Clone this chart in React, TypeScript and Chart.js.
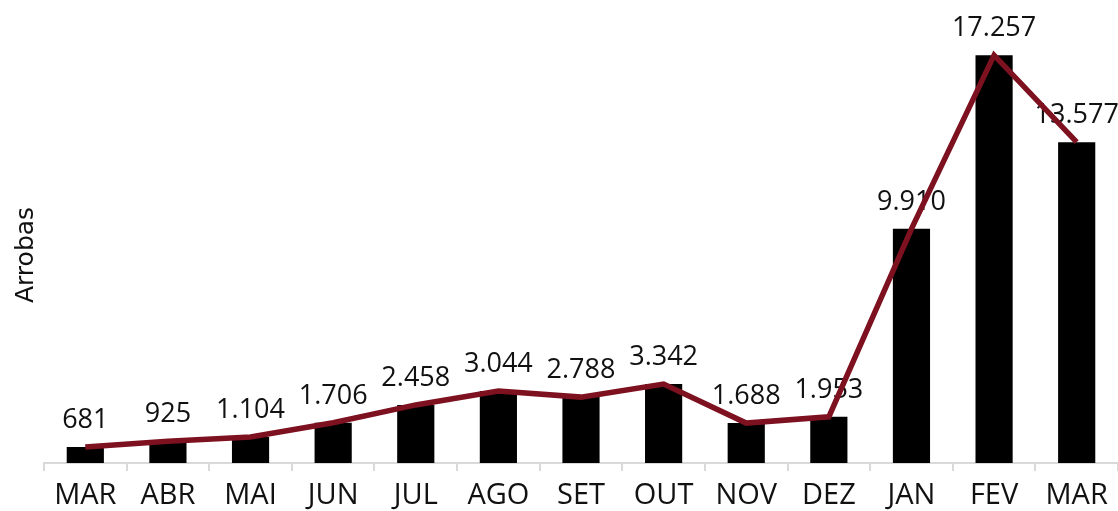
import React, { useEffect, useRef } from "react";
import { Chart, registerables } from "chart.js";

Chart.register(...registerables);

const categories = ["MAR", "ABR", "MAI", "JUN", "JUL", "AGO", "SET", "OUT", "NOV", "DEZ", "JAN", "FEV", "MAR"];
const barValues = [681, 925, 1104, 1706, 2458, 3044, 2788, 3342, 1688, 1953, 9910, 17257, 13577];
const lineValues = [681, 925, 1104, 1706, 2458, 3044, 2788, 3342, 1688, 1953, 9910, 17257, 13577];
const yTitle = "Arrobas";

const fmt = (v: number) => v.toLocaleString("pt-BR");

const labelPlugin = {
  id: "valueLabels",
  beforeDatasetsDraw(chart: any) {
    const ctx = chart.ctx;
    const meta = chart.getDatasetMeta(0);
    ctx.save();
    ctx.font = "27px 'Open Sans'";
    ctx.fillStyle = "#111";
    ctx.textAlign = "center";
    ctx.textBaseline = "bottom";
    meta.data.forEach((el: any, i: number) => {
      ctx.fillText(fmt(barValues[i]), el.x, el.y - 13);
    });
    ctx.restore();
  },
  afterDraw(chart: any) {
    const ctx = chart.ctx;
    ctx.save();
    ctx.font = "25px 'DejaVu Sans'";
    ctx.fillStyle = "#111";
    ctx.textAlign = "center";
    ctx.textBaseline = "middle";
    ctx.translate(26, 255);
    ctx.rotate(-Math.PI / 2);
    ctx.fillText(yTitle, 0, 0);
    ctx.restore();
  },
};

export default function App() {
  const ref = useRef<HTMLCanvasElement>(null);
  useEffect(() => {
    document.body.style.margin = "0";
    const chart = new Chart(ref.current!, {
      type: "bar",
      data: {
        labels: categories,
        datasets: [
          {
            type: "line",
            data: lineValues,
            borderColor: "#7d111f",
            borderWidth: 5.5,
            pointRadius: 0,
            tension: 0,
            order: 0,
          } as any,
          {
            type: "bar",
            data: barValues,
            backgroundColor: "#000",
            barPercentage: 0.45,
            categoryPercentage: 1,
            order: 1,
          },
        ],
      },
      options: {
        animation: false,
        responsive: false,
        layout: { padding: { left: 44, right: 0, top: 14, bottom: 0 } },
        plugins: { legend: { display: false }, tooltip: { enabled: false } },
        scales: {
          x: {
            afterFit(scale: any) {
              scale.height = 48;
            },
            grid: { display: true, drawOnChartArea: false, drawTicks: true, tickLength: 8, color: "#d9d9d9", lineWidth: 2, offset: true },
            border: { display: true, color: "#d9d9d9", width: 2 },
            ticks: { color: "#111", font: { family: "'Open Sans'", size: 29, lineHeight: 1.1 }, padding: 9 },
          },
          y: { display: false, min: 0, max: 19000 },
        },
      },
      plugins: [labelPlugin],
    });
    return () => chart.destroy();
  }, []);
  return <canvas ref={ref} width={1118} height={511} />;
}
